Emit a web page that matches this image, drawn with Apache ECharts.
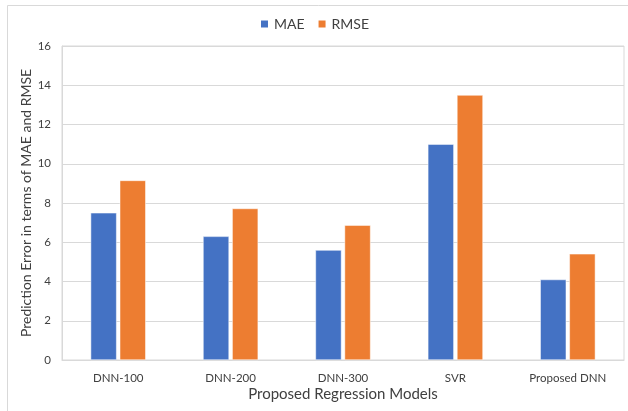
<!DOCTYPE html>
<html>
<head>
<meta charset="utf-8">
<script src="https://cdn.jsdelivr.net/npm/echarts@6/dist/echarts.min.js"></script>
<style>
  html, body { margin: 0; padding: 0; background: #fff; }
  #chart { width: 628px; height: 411px; }
</style>
</head>
<body>
<div id="chart"></div>
<script>
// models on the x axis
var models = ['DNN-100', 'DNN-200', 'DNN-300', 'SVR', 'Proposed DNN'];
// errors
var maeValues = [7.5, 6.3, 5.6, 11.0, 4.1];
var rmseValues = [9.15, 7.72, 6.87, 13.5, 5.41];
var yTicks = [0, 2, 4, 6, 8, 10, 12, 14, 16];

var FONT = 'Lato, "Open Sans", sans-serif';

var chart = echarts.init(document.getElementById('chart'), null, { renderer: 'canvas' });

chart.setOption({
    backgroundColor: '#fff',
    animation: false,
    textStyle: { fontFamily: FONT },
    // outer frame of the chart
    graphic: [{
        type: 'rect',
        shape: { x: 7.5, y: 5.5, width: 640, height: 420 },
        style: { fill: 'none', stroke: '#d9d9d9', lineWidth: 1 },
        silent: true
    }],
    legend: {
        top: 12,
        left: 'center',
        itemWidth: 9,
        itemHeight: 9,
        itemGap: 12,
        icon: 'rect',
        textStyle: { fontFamily: FONT, fontSize: 14, color: '#404040' },
        data: ['MAE', 'RMSE']
    },
    grid: {
        left: 62,
        right: 4,
        top: 46,
        bottom: 51,
        show: true,
        borderColor: '#d9d9d9',
        borderWidth: 1
    },
    xAxis: {
        type: 'category',
        data: models,
        name: 'Proposed Regression Models',
        nameLocation: 'middle',
        nameGap: 27,
        nameMoveOverlap: false,
        nameTextStyle: { fontFamily: FONT, fontSize: 15, color: '#404040' },
        axisLine: { lineStyle: { color: '#d9d9d9', width: 1 } },
        axisTick: { show: false },
        axisLabel: { fontFamily: FONT, fontSize: 11.5, color: '#404040', margin: 12 }
    },
    yAxis: {
        type: 'value',
        min: yTicks[0],
        max: yTicks[yTicks.length - 1],
        interval: 2,
        name: 'Prediction Error in terms of MAE and RMSE',
        nameLocation: 'middle',
        nameGap: 29,
        nameMoveOverlap: false,
        nameRotate: 90,
        nameTextStyle: { fontFamily: FONT, fontSize: 14, color: '#404040' },
        axisLine: { show: true, lineStyle: { color: '#d9d9d9' } },
        axisTick: { show: false },
        axisLabel: { fontFamily: FONT, fontSize: 11.5, color: '#404040', margin: 11 },
        splitLine: { lineStyle: { color: '#d9d9d9', width: 1 } }
    },
    series: [
        {
            name: 'MAE',
            type: 'bar',
            data: maeValues,
            barWidth: 26,
            barGap: '12%',
            itemStyle: { color: '#4472c4', borderColor: '#ffffff', borderWidth: 0.5 }
        },
        {
            name: 'RMSE',
            type: 'bar',
            data: rmseValues,
            barWidth: 26,
            barGap: '12%',
            itemStyle: { color: '#ed7d31', borderColor: '#ffffff', borderWidth: 0.5 }
        }
    ]
});
</script>
</body>
</html>
